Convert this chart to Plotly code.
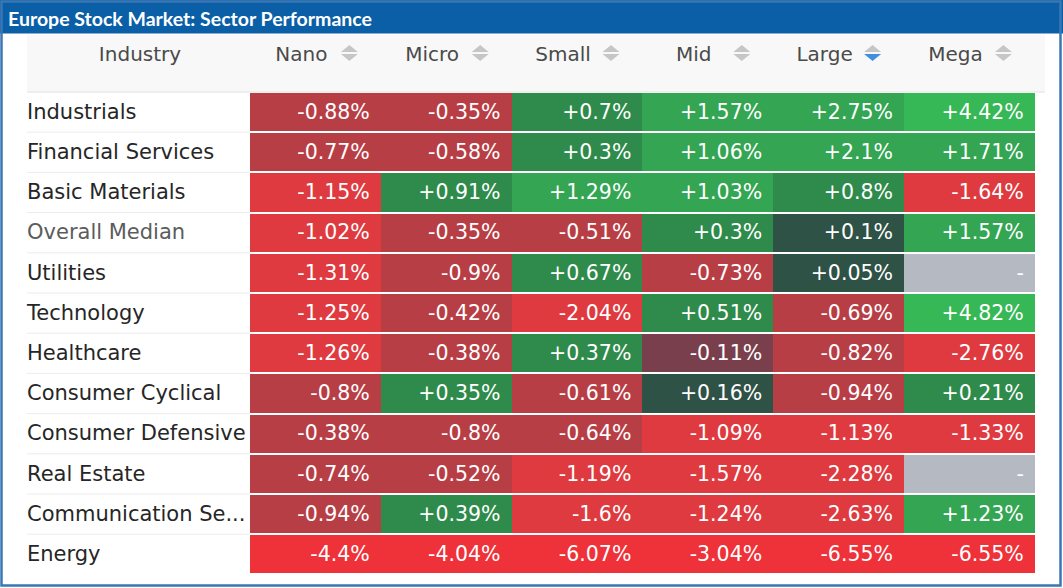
import math
import plotly.graph_objects as go

# ---------------- data ----------------
industries = ["Industrials", "Financial Services", "Basic Materials", "Overall Median",
              "Utilities", "Technology", "Healthcare", "Consumer Cyclical",
              "Consumer Defensive", "Real Estate", "Communication Se...", "Energy"]
columns = ["Nano", "Micro", "Small", "Mid", "Large", "Mega"]
nano = [-0.88, -0.77, -1.15, -1.02, -1.31, -1.25, -1.26, -0.8, -0.38, -0.74, -0.94, -4.4]
micro = [-0.35, -0.58, 0.91, -0.35, -0.9, -0.42, -0.38, 0.35, -0.8, -0.52, 0.39, -4.04]
small = [0.7, 0.3, 1.29, -0.51, 0.67, -2.04, 0.37, -0.61, -0.64, -1.19, -1.6, -6.07]
mid = [1.57, 1.06, 1.03, 0.3, -0.73, 0.51, -0.11, 0.16, -1.09, -1.57, -1.24, -3.04]
large = [2.75, 2.1, 0.8, 0.1, 0.05, -0.69, -0.82, -0.94, -1.13, -2.28, -2.63, -6.55]
mega = [4.42, 1.71, -1.64, 1.57, None, 4.82, -2.76, 0.21, -1.33, None, 1.23, -6.55]
sorted_column = "Large"
title_text = "Europe Stock Market: Sector Performance"

series = [nano, micro, small, mid, large, mega]
nrows, ncols = len(industries), len(columns)

# ---------------- geometry helpers (pixels -> axis units) ----------------
W, H = 1063, 588
CELL_X0 = 250.0      # left edge of first value column
CW = 130.8           # column width px
ROW_Y0 = 92.0        # top of first row
RH = 40.2            # row height px
TEXT_DY = 1.5 / RH   # small downward nudge for text baseline


def X(px):
    return (px - CELL_X0) / CW - 0.5


def Y(py):
    return (py - ROW_Y0) / RH - 0.5


z = [[series[c][r] for c in range(ncols)] for r in range(nrows)]
zmiss = [[1 if series[c][r] is None else None for c in range(ncols)] for r in range(nrows)]

# stepped colour scale
ZMIN, ZMAX = -4.0, 4.0


def t(v):
    return (v - ZMIN) / (ZMAX - ZMIN)


steps = [(-3, "#ef3139"), (-1, "#de3a40"), (-0.2, "#b83e46"), (0, "#7a3f4d"),
         (0.2, "#2f5246"), (1, "#2e8b4b"), (3, "#33a553"), (None, "#37b857")]
colorscale = []
prev = 0.0
for thr, col in steps:
    end = 1.0 if thr is None else t(thr)
    colorscale.append([prev, col])
    colorscale.append([end, col])
    prev = end

fig = go.Figure()

fig.add_trace(go.Heatmap(
    z=zmiss, x=list(range(ncols)), y=list(range(nrows)),
    colorscale=[[0, "#b5b9c1"], [1, "#b5b9c1"]], showscale=False,
    ygap=2, xgap=0, hoverinfo="skip"))

fig.add_trace(go.Heatmap(
    z=z, x=list(range(ncols)), y=list(range(nrows)),
    colorscale=colorscale, zmin=ZMIN, zmax=ZMAX, showscale=False,
    ygap=2, xgap=0, hoverinfo="skip"))

# cell value texts (right aligned)
tx, ty, tt = [], [], []
for r in range(nrows):
    for c in range(ncols):
        v = series[c][r]
        tx.append(c + 0.5 - 11 / CW)
        ty.append(r + TEXT_DY)
        tt.append("-" if v is None else f"{v:+g}%")
fig.add_trace(go.Scatter(
    x=tx, y=ty, text=tt, mode="text", textposition="middle left",
    textfont=dict(family="DejaVu Sans", size=20.5, color="white"),
    hoverinfo="skip", showlegend=False))

# row labels
fig.add_trace(go.Scatter(
    x=[X(27)] * nrows, y=[r + TEXT_DY for r in range(nrows)], text=industries, mode="text",
    textposition="middle right",
    textfont=dict(family="DejaVu Sans", size=21,
                  color=["#5c5c5c" if n == "Overall Median" else "#262626" for n in industries]),
    hoverinfo="skip", showlegend=False))

# header texts
hx = [X(140)] + [c - 14 / CW for c in range(ncols)]
hy = [Y(56)] * (ncols + 1)
fig.add_trace(go.Scatter(
    x=hx, y=hy, text=["Industry"] + columns, mode="text", textposition="middle center",
    textfont=dict(family="DejaVu Sans", size=20, color="#4a4a4a"),
    hoverinfo="skip", showlegend=False))

shapes = []
# header band
shapes.append(dict(type="rect", xref="x", yref="y", x0=X(27), x1=X(1045), y0=Y(35), y1=Y(92),
                   fillcolor="#f8f8f8", line=dict(width=0), layer="below"))
shapes.append(dict(type="line", xref="x", yref="y", x0=X(27), x1=X(1045), y0=Y(92), y1=Y(92),
                   line=dict(color="#e2e2e2", width=1)))
# label separators
for k in range(1, nrows):
    yy = k - 0.5
    shapes.append(dict(type="line", xref="x", yref="y", x0=X(27), x1=-0.5, y0=yy, y1=yy,
                       line=dict(color="#ececec", width=1)))
# sort icons
for c, name in enumerate(columns):
    ax = c + 34 / CW
    up_col = "#c6c6c6"
    dn_col = "#3f8fe0" if name == sorted_column else "#c6c6c6"
    shapes.append(dict(type="path", xref="x", yref="y", xsizemode="pixel", ysizemode="pixel",
                       xanchor=ax, yanchor=Y(53), path="M -8.5,1 L 8.5,1 L 0,8 Z",
                       fillcolor=up_col, line=dict(width=0)))
    shapes.append(dict(type="path", xref="x", yref="y", xsizemode="pixel", ysizemode="pixel",
                       xanchor=ax, yanchor=Y(53), path="M -8.5,-1 L 8.5,-1 L 0,-8 Z",
                       fillcolor=dn_col, line=dict(width=0)))
# title bar and frame
shapes.append(dict(type="rect", xref="paper", yref="paper", x0=0, x1=1,
                   y0=1 - 33.5 / H, y1=1, fillcolor="#0a5fa6", line=dict(width=0), layer="below"))
shapes.append(dict(type="rect", xref="paper", yref="paper", x0=1.5 / W, x1=1 - 2.5 / W,
                   y0=2.5 / H, y1=1 - 1.5 / H, fillcolor="rgba(0,0,0,0)",
                   line=dict(color="#3a77b4", width=2.5)))

fig.update_layout(
    width=W, height=H, margin=dict(l=0, r=0, t=0, b=0),
    paper_bgcolor="white", plot_bgcolor="white",
    shapes=shapes,
    title=dict(text=title_text, x=8 / W, xanchor="left", xref="paper",
               y=1 - 19 / H, yanchor="middle", yref="paper",
               font=dict(family="Lato", size=19.5, color="white", weight="bold")),
    xaxis=dict(visible=False, range=[X(0), X(W)], fixedrange=True),
    yaxis=dict(visible=False, range=[Y(H), Y(0)], fixedrange=True),
    showlegend=False,
)

fig.write_html("out.html")
